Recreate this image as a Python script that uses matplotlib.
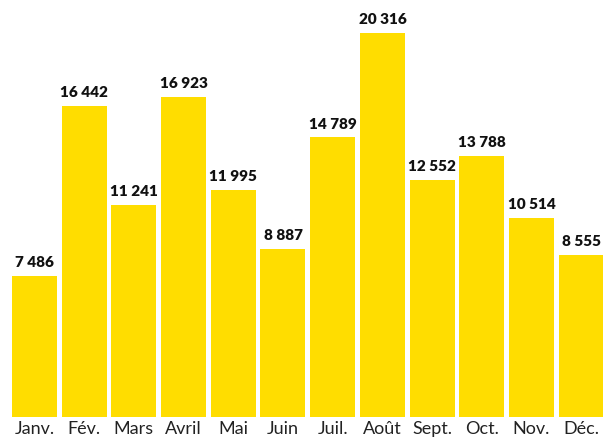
import matplotlib
matplotlib.use("Agg")
import matplotlib.pyplot as plt
from matplotlib.transforms import offset_copy

months = ["Janv.", "Fév.", "Mars", "Avril", "Mai", "Juin", "Juil.", "Août", "Sept.", "Oct.", "Nov.", "Déc."]
values = [7486, 16442, 11241, 16923, 11995, 8887, 14789, 20316, 12552, 13788, 10514, 8555]

def fmt(v):
    return f"{v:,}".replace(",", " ")

fig = plt.figure(figsize=(6.03, 4.37), dpi=100)
ax = fig.add_axes([0, 0, 1, 1])
x = list(range(len(values)))
ax.bar(x, values, width=0.905, color="#FFDD00", edgecolor="none")
ax.set_xlim(-0.694, 11.439)
ax.set_ylim(-1058, 22062)
ax.axis("off")

for xi, v in zip(x, values):
    ax.annotate(fmt(v), (xi, v), xytext=(0, 5), textcoords="offset points",
                ha="center", va="bottom", fontsize=11, fontweight="heavy",
                family="Lato", color="#111111")

trans = offset_copy(ax.transData, fig=fig, x=0, y=-4, units="dots")
for xi, m in zip(x, months):
    ax.text(xi, 0, m, transform=trans, ha="center", va="top", fontsize=13,
            family="Lato", color="#222222", clip_on=False)

fig.savefig("out.png", dpi=100)
